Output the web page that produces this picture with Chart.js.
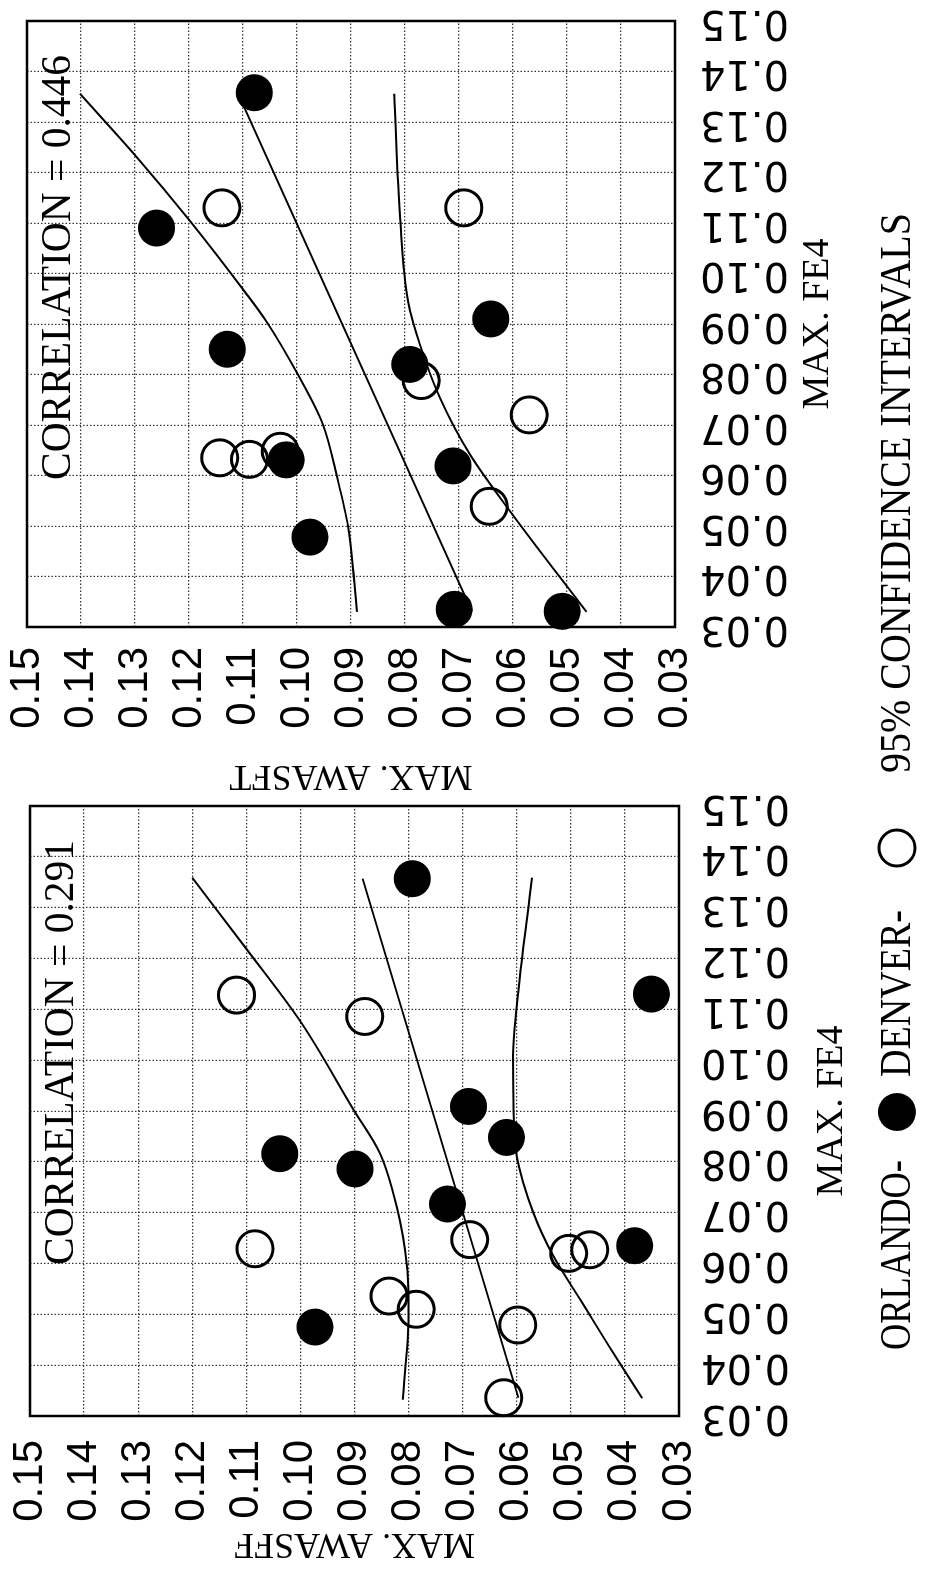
<!DOCTYPE html>
<html>
<head>
<meta charset="utf-8">
<script src="https://cdn.jsdelivr.net/npm/chart.js@4.4.0/dist/chart.umd.min.js"></script>
<style>
  html, body { margin: 0; padding: 0; background: #fff; overflow: hidden; }
  /* the figure is drawn upright and then turned a quarter turn to the left */
  #page { position: absolute; left: 0; top: 0; width: 1579px; height: 927px;
          transform-origin: 0 0; transform: translate(0px, 1579px) rotate(-90deg); }
  #page canvas { position: absolute; top: 0; }
  #leftChart { left: 0; }
  #rightChart { left: 700px; }
  #key { position: absolute; left: 0; top: 0; }
</style>
</head>
<body>
<div id="page">
  <canvas id="leftChart" width="860" height="927"></canvas>
  <canvas id="rightChart" width="879" height="927"></canvas>
  <svg id="key" width="1579" height="927" font-family="Liberation Serif" font-size="44">
    <text x="229" y="910" textLength="190" lengthAdjust="spacingAndGlyphs">ORLANDO-</text>
    <circle cx="467" cy="897" r="19" fill="#000"></circle>
    <text x="502" y="910" textLength="167" lengthAdjust="spacingAndGlyphs">DENVER-</text>
    <circle cx="731" cy="897" r="18" fill="none" stroke="#000" stroke-width="3"></circle>
    <text x="806" y="910" textLength="560" lengthAdjust="spacingAndGlyphs">95% CONFIDENCE INTERVALS</text>
  </svg>
</div>
<script>
// tick values and labels, same for both axes of both panels
const tickValues = [0.03, 0.04, 0.05, 0.06, 0.07, 0.08, 0.09, 0.10, 0.11, 0.12, 0.13, 0.14, 0.15];
const tickLabels = ['0.03', '0.04', '0.05', '0.06', '0.07', '0.08', '0.09', '0.10', '0.11', '0.12', '0.13', '0.14', '0.15'];

// left panel (correlation 0.291)
const leftCorr = 'CORRELATION = 0.291';
const leftYTitle = 'MAX. AWASFF';
const leftOrlandoX = [0.1357, 0.1130, 0.0909, 0.0816, 0.0786, 0.0475, 0.0848, 0.0717, 0.0635];
const leftOrlandoY = [0.0793, 0.0351, 0.0689, 0.1038, 0.0899, 0.0973, 0.0619, 0.0728, 0.0382];
const leftDenverX = [0.1128, 0.1086, 0.0629, 0.0647, 0.0620, 0.0627, 0.0536, 0.0510, 0.0479, 0.0336];
const leftDenverY = [0.1118, 0.0881, 0.1084, 0.0687, 0.0504, 0.0465, 0.0836, 0.0786, 0.0598, 0.0624];
const leftFitX = [0.0336, 0.1357];
const leftFitY = [0.0597, 0.0885];
const leftUpperX = [0.0332, 0.0496, 0.0594, 0.0712, 0.0817, 0.0903, 0.1073, 0.1219, 0.1359];
const leftUpperY = [0.0811, 0.0800, 0.0803, 0.0822, 0.0853, 0.0902, 0.0998, 0.1100, 0.1200];
const leftLowerX = [0.0335, 0.0423, 0.0528, 0.0614, 0.0699, 0.0811, 0.0903, 0.1008, 0.1106, 0.1359];
const leftLowerY = [0.0368, 0.0421, 0.0482, 0.0532, 0.0569, 0.0600, 0.0606, 0.0607, 0.0600, 0.0572];

// right panel (correlation 0.446)
const rightCorr = 'CORRELATION = 0.446';
const rightYTitle = 'MAX. AWASFT';
const rightOrlandoX = [0.1358, 0.1090, 0.0910, 0.0850, 0.0631, 0.0478, 0.0820, 0.0619, 0.0335, 0.0331];
const rightOrlandoY = [0.1079, 0.1260, 0.0641, 0.1129, 0.1020, 0.0976, 0.0791, 0.0711, 0.0709, 0.0509];
const rightDenverX = [0.1130, 0.1130, 0.0635, 0.0632, 0.0648, 0.0788, 0.0720, 0.0539];
const rightDenverY = [0.1139, 0.0691, 0.1143, 0.1088, 0.1031, 0.0770, 0.0570, 0.0644];
const rightFitX = [0.0331, 0.1358];
const rightFitY = [0.0676, 0.1110];
const rightUpperX = [0.0330, 0.0497, 0.0602, 0.0701, 0.0801, 0.0904, 0.0963, 0.1104, 0.1232, 0.1356];
const rightUpperY = [0.0889, 0.0905, 0.0927, 0.0952, 0.0999, 0.1056, 0.1096, 0.1198, 0.1298, 0.1402];
const rightLowerX = [0.0330, 0.0530, 0.0642, 0.0753, 0.0858, 0.0943, 0.1107, 0.1356];
const rightLowerY = [0.0464, 0.0606, 0.0680, 0.0735, 0.0772, 0.0794, 0.0809, 0.0820];

const xTitle = 'MAX. FE4';

const pts = (xs, ys) => xs.map((x, i) => ({ x: x, y: ys[i] }));

// frame round the plot and the correlation note
const panelExtras = {
  id: 'panelExtras',
  beforeDatasetsDraw(chart) {
    const { ctx, chartArea: a } = chart;
    ctx.save();
    ctx.strokeStyle = '#000';
    ctx.lineWidth = 2.5;
    ctx.strokeRect(a.left, a.top, a.right - a.left, a.bottom - a.top);
    ctx.restore();
  },
  afterDraw(chart, args, opts) {
    const { ctx, chartArea: a } = chart;
    ctx.save();
    ctx.font = '42px "Liberation Serif"';
    ctx.fillStyle = '#000';
    ctx.textAlign = 'right';
    ctx.textBaseline = 'alphabetic';
    ctx.fillText(opts.text, a.right - 34, a.top + 43, 425);
    ctx.restore();
  }
};

function curve(data) {
  return {
    data: data, showLine: true, pointRadius: 0, borderColor: '#000',
    borderWidth: 2, cubicInterpolationMode: 'monotone', clip: false
  };
}

function makeChart(id, s) {
  const ctx = document.getElementById(id).getContext('2d');
  return new Chart(ctx, {
    type: 'scatter',
    data: {
      datasets: [
        { label: 'ORLANDO', data: pts(s.ox, s.oy), pointRadius: 18.5, pointBackgroundColor: '#000',
          pointBorderColor: '#000', pointBorderWidth: 0, clip: false },
        { label: 'DENVER', data: pts(s.dx, s.dy), pointRadius: 18, pointBackgroundColor: 'rgba(0,0,0,0)',
          pointBorderColor: '#000', pointBorderWidth: 3, clip: false },
        curve(pts(s.fx, s.fy)),
        curve(pts(s.ux, s.uy)),
        curve(pts(s.lx, s.ly))
      ]
    },
    options: {
      responsive: false,
      maintainAspectRatio: false,
      devicePixelRatio: 1,
      animation: false,
      events: [],
      layout: { padding: { left: 0, top: s.top, right: s.right, bottom: 0 } },
      plugins: {
        legend: { display: false },
        tooltip: { enabled: false },
        panelExtras: { text: s.corr }
      },
      scales: {
        x: {
          type: 'linear', min: 0.03, max: 0.15,
          afterBuildTicks: (sc) => { sc.ticks = tickValues.map(v => ({ value: v })); },
          afterFit: (sc) => { sc.height = s.xAxisH; sc.paddingLeft = 0; sc.paddingRight = 0; },
          grid: { color: '#333', lineWidth: 1.2, drawTicks: false },
          border: { display: false, dash: [1.5, 2] },
          ticks: {
            autoSkip: false, minRotation: 90, maxRotation: 90, padding: s.xPad, color: '#000',
            font: { family: 'DejaVu Sans', size: 40 },
            callback: (v, i) => tickLabels[i]
          },
          title: {
            display: true, text: xTitle, color: '#000',
            font: { family: 'Liberation Serif', size: 38 },
            padding: { top: 0, bottom: s.xTitlePad }
          }
        },
        y: {
          type: 'linear', min: 0.03, max: 0.15,
          afterBuildTicks: (sc) => { sc.ticks = tickValues.map(v => ({ value: v })); },
          afterFit: (sc) => { sc.width = s.yAxisW; sc.paddingTop = 0; sc.paddingBottom = 0; },
          grid: { color: '#333', lineWidth: 1.2, drawTicks: false },
          border: { display: false, dash: [1.5, 2] },
          ticks: {
            autoSkip: false, padding: s.yPad, color: '#000',
            font: { family: 'Liberation Sans', size: 42 },
            callback: (v, i) => tickLabels[i]
          },
          title: {
            display: true, text: s.yTitle, color: '#000',
            font: { family: 'Liberation Serif', size: 36 },
            padding: { top: s.yTitlePad, bottom: 0 }
          }
        }
      }
    },
    plugins: [panelExtras]
  });
}

makeChart('leftChart', {
  ox: leftOrlandoX, oy: leftOrlandoY, dx: leftDenverX, dy: leftDenverY,
  fx: leftFitX, fy: leftFitY, ux: leftUpperX, uy: leftUpperY, lx: leftLowerX, ly: leftLowerY,
  corr: leftCorr, yTitle: leftYTitle,
  top: 30, right: 87, yAxisW: 163, xAxisH: 248, xPad: 22, yPad: 24, xTitlePad: 72, yTitlePad: 14
});

makeChart('rightChart', {
  ox: rightOrlandoX, oy: rightOrlandoY, dx: rightDenverX, dy: rightDenverY,
  fx: rightFitX, fy: rightFitY, ux: rightUpperX, uy: rightUpperY, lx: rightLowerX, ly: rightLowerY,
  corr: rightCorr, yTitle: rightYTitle,
  top: 27, right: 17, yAxisW: 252, xAxisH: 252, xPad: 25, yPad: 20, xTitlePad: 86, yTitlePad: 82
});
</script>
</body>
</html>
